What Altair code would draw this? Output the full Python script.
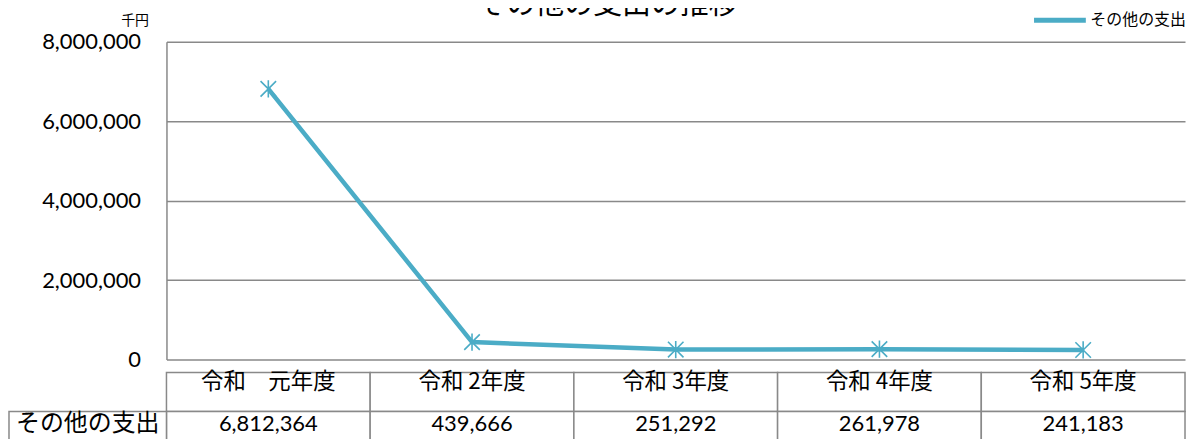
import altair as alt
import pandas as pd

title_text = "その他の支出の推移"
series_name = "その他の支出"
unit_label = "千円"
categories = ["令和　元年度", "令和 2年度", "令和 3年度", "令和 4年度", "令和 5年度"]
values = [6812364, 439666, 251292, 261978, 241183]
y_ticks = [0, 2000000, 4000000, 6000000, 8000000]
row_order = ["header", "data"]

LINE = "#4BACC6"
GRID = "#898989"
JP = "Noto Sans CJK JP"
NUM = "Lato, 'Noto Sans CJK JP'"
ASTERISK = "M-0.9,-0.9L0.9,0.9M-0.9,0.9L0.9,-0.9M0,-1L0,1"

W = 1022
H = 319

df = pd.DataFrame({"cat": categories, "value": values, "series": [series_name] * len(values)})

x_enc = alt.X("cat:N", sort=categories,
              scale=alt.Scale(paddingInner=0, paddingOuter=0), axis=None)

y_enc = alt.Y("value:Q",
              scale=alt.Scale(domain=[0, 8000000], nice=False),
              axis=alt.Axis(values=y_ticks, format=",d", title=unit_label,
                            titleAngle=0, titleAlign="right", titleBaseline="middle",
                            titleX=-18, titleY=-21, titleFont=JP, titleFontSize=14,
                            titleFontWeight="normal", titleColor="black",
                            labelFont=NUM, labelFontSize=22, labelColor="black",
                            labelPadding=26, ticks=False,
                            grid=True, gridColor=GRID, gridWidth=1.5,
                            domainColor=GRID, domainWidth=1.5))

line = alt.Chart(df).mark_line(strokeWidth=4.5).encode(
    x=x_enc,
    y=y_enc,
    color=alt.Color("series:N", scale=alt.Scale(range=[LINE]),
                    legend=alt.Legend(orient="none", legendX=868, legendY=-50,
                                      title=None, symbolType="stroke",
                                      symbolStrokeWidth=5, symbolSize=2700,
                                      labelFont=JP, labelFontSize=16,
                                      labelColor="black", labelOffset=2)),
)

points = alt.Chart(df).mark_point(shape=ASTERISK, size=300, filled=False,
                                  stroke=LINE, strokeWidth=1.6, opacity=1).encode(
    x=x_enc,
    y=alt.Y("value:Q"),
)

top = alt.layer(line, points).properties(width=W, height=H)

# table
cells = []
for c, v in zip(categories, values):
    cells.append({"cat": c, "row": "header", "text": c})
    cells.append({"cat": c, "row": "data", "text": f"{v:,}"})
cells_df = pd.DataFrame(cells)

y_tab = alt.Y("row:N", sort=row_order,
              scale=alt.Scale(domain=row_order, paddingInner=0, paddingOuter=0),
              axis=None)

rects = alt.Chart(cells_df).mark_rect(fill="white", stroke=GRID, strokeWidth=1.5).encode(
    x=x_enc, y=y_tab)

hdr_text = alt.Chart(cells_df).transform_filter(alt.datum.row == "header").mark_text(
    font=JP, fontSize=22.5, color="black", dy=-10).encode(x=x_enc, y=y_tab, text="text:N")

val_text = alt.Chart(cells_df).transform_filter(alt.datum.row == "data").mark_text(
    font=NUM, fontSize=22, color="black", dy=-7).encode(x=x_enc, y=y_tab, text="text:N")

label_df = pd.DataFrame({"row": ["data"], "label": [series_name]})
label_rect = alt.Chart(label_df).mark_rect(fill="white", stroke=GRID, strokeWidth=1.5).encode(
    x=alt.value(-158), x2=alt.value(0), y=y_tab)
label_text = alt.Chart(label_df).mark_text(font=JP, fontSize=24, color="black", dy=-7).encode(
    x=alt.value(-79), y=y_tab, text="label:N")

table = alt.layer(rects, hdr_text, val_text, label_rect, label_text).properties(
    width=W, height=78)

chart = alt.vconcat(top, table, spacing=0).properties(
    title=alt.TitleParams(title_text, font=JP, fontSize=29, fontWeight="normal",
                          color="black", anchor="middle", frame="bounds", offset=-28,
                          dx=10),
    padding={"left": 0, "top": -18, "right": 0, "bottom": 0},
).configure_view(stroke=None)

chart.save("out.html", embed_options={"renderer": "svg", "actions": False})
